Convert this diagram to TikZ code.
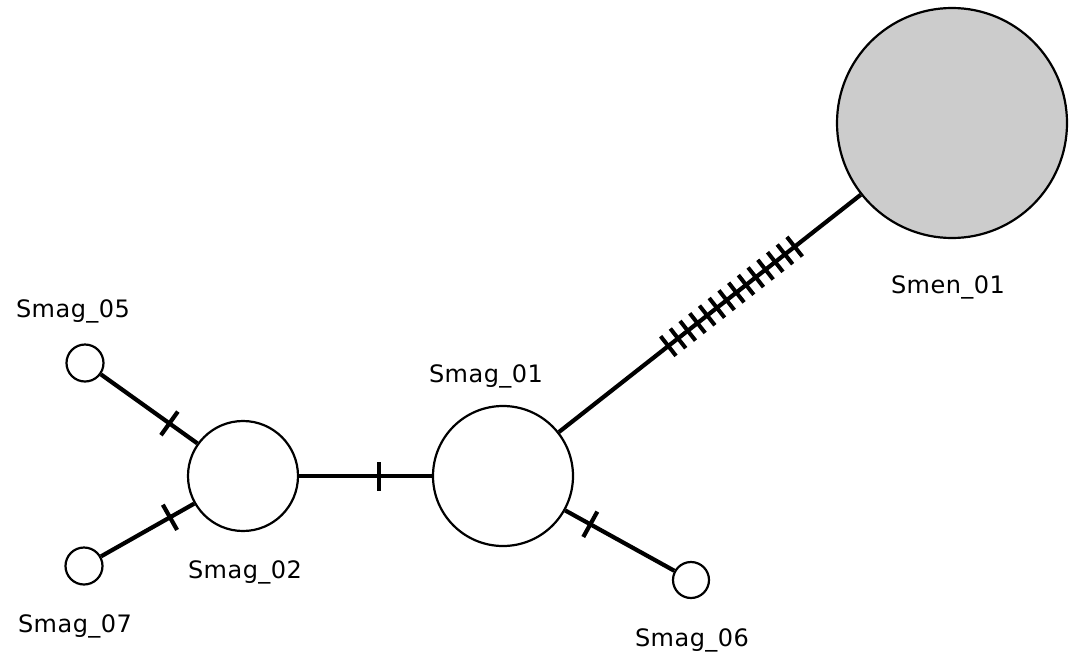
\documentclass[tikz,border=0pt]{standalone}
\usepackage{fontspec}
\setmainfont{DejaVu Sans}[LetterSpace=2]
\begin{document}
\begin{tikzpicture}[x=1pt,y=-1pt,
  hap/.style={circle,draw=black,line width=2.2pt,fill=white,inner sep=0pt,minimum size=#1},
  link/.style={line width=4.2pt,black},
  mut/.style={sloped,fill=black,inner sep=0pt,minimum width=4.2pt,minimum height=29pt,draw=none},
  hmut/.style={mut,minimum width=4pt,minimum height=25pt},
  lbl/.style={anchor=base,inner sep=0pt,font=\fontsize{24}{28}\selectfont}]
\useasboundingbox (0,0) rectangle (1073,651);
% haplotype circles
\node[hap=230pt,fill={rgb,255:red,204;green,204;blue,204}] (men) at (952,123) {};
\node[hap=140pt] (s01) at (503,476) {};
\node[hap=110pt] (s02) at (243,476) {};
\node[hap=37pt] (s05) at (85,363) {};
\node[hap=37pt] (s07) at (84,566) {};
\node[hap=36pt] (s06) at (691,580) {};
% connectors with mutation ticks
\draw[link] (s02) -- node[mut,pos=0.6] {} (s01);
\draw[link] (s05) -- node[mut,pos=0.71] {} (s02);
\draw[link] (s07) -- node[mut,pos=0.74] {} (s02);
\draw[link] (s01) -- node[mut,pos=0.23] {} (s06);
\draw[link] (s01) -- (men)
  \foreach \i in {0,...,13} { node[hmut,pos=0.3625+\i*0.0322] {} };
% labels
\node[lbl] (t_men) at (948,293) {Smen\_01};
\node[lbl] (t_s01) at (486,382) {Smag\_01};
\node[lbl] (t_s05) at (73,317) {Smag\_05};
\node[lbl] (t_s02) at (245,578) {Smag\_02};
\node[lbl] (t_s07) at (75,632) {Smag\_07};
\node[lbl] (t_s06) at (692,646) {Smag\_06};
\end{tikzpicture}
\end{document}
